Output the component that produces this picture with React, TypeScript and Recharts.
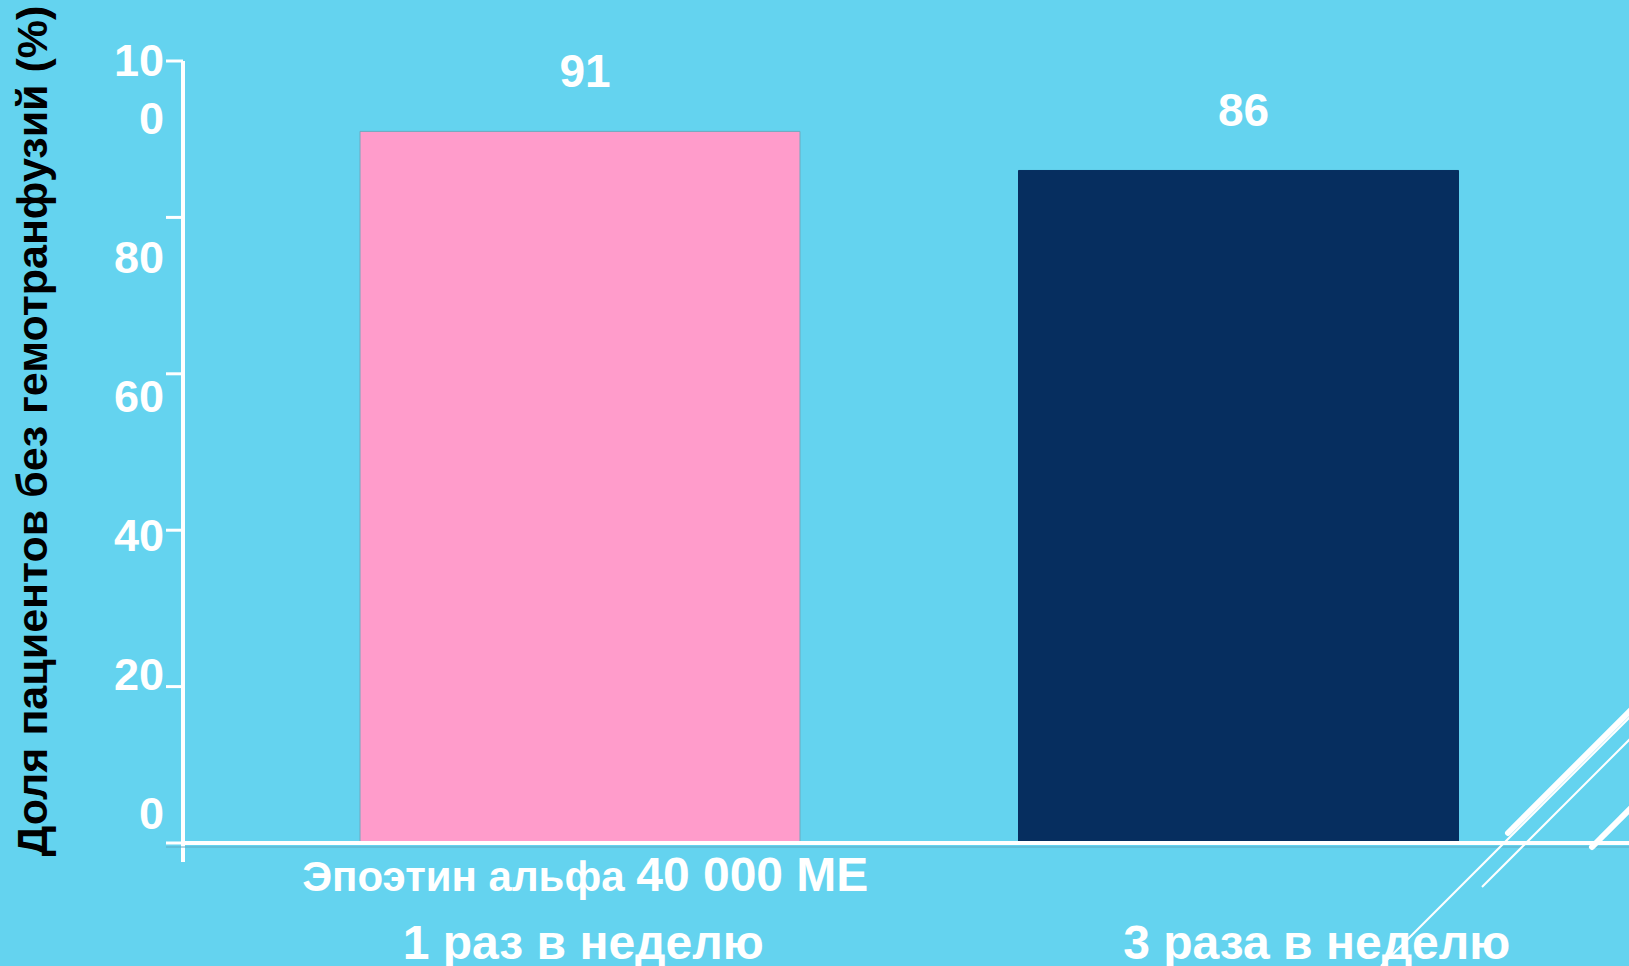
import React from 'react';
import { BarChart, Bar, XAxis, YAxis, Cell, LabelList } from 'recharts';

const groups = ['weekly', 'thriceWeekly'];
const doseLabels = ['Эпоэтин альфа 40 000 МЕ', ''];
const scheduleLabels = ['1 раз в неделю', '3 раза в неделю'];
const transfusionFree = [91, 86];
const yTicks = [0, 20, 40, 60, 80, 100];
const yTickLines = [['0'], ['20'], ['40'], ['60'], ['80'], ['10', '0']];
const yTitle = 'Доля пациентов без гемотранфузий (%)';

const data = groups.map((g, i) => ({
  group: g,
  dose: doseLabels[i],
  schedule: scheduleLabels[i],
  value: transfusionFree[i],
}));

const BG = '#64D3EF';
const FONT = "'Liberation Sans', Arial, sans-serif";
const barFills = ['#FF9CCB', '#062E5F'];
const barStrokes = ['#6FA9BE', '#062E5F'];
const scheduleShift = [3, 78];

const YTick = (props: any) => {
  const { x, y, payload } = props;
  const i = yTicks.indexOf(payload.value);
  const lines = yTickLines[i] ?? [String(payload.value)];
  // tick labels in the slide sit on a slightly squeezed scale vs. the tick marks
  const cy = y - 30 + payload.value * 0.87;
  const n = lines.length;
  return (
    <text textAnchor="end" fill="#fff" fontSize={45} fontWeight="bold" fontFamily={FONT}>
      {lines.map((l, k) => (
        <tspan key={k} x={x} y={cy + 16 - (n - 1 - k) * 58}>
          {l}
        </tspan>
      ))}
    </text>
  );
};

const XTick = (props: any) => {
  const { x, y, payload } = props;
  const i = groups.indexOf(payload.value);
  const dose = data[i].dose;
  const m = dose.match(/^(.*?)(\d.*)$/);
  return (
    <g fill="#fff" fontWeight="bold" fontFamily={FONT}>
      {dose && (
        <text x={x + 5} y={y + 48} textAnchor="middle">
          <tspan fontSize={42}>{m ? m[1] : dose}</tspan>
          {m && <tspan fontSize={48}>{m[2]}</tspan>}
        </text>
      )}
      <text x={x + scheduleShift[i]} y={y + 116} textAnchor="middle" fontSize={48}>
        {data[i].schedule}
      </text>
    </g>
  );
};

const YTitle = () => (
  <text
    transform="translate(47,431) rotate(-90)"
    textAnchor="middle"
    fill="#000"
    fontSize={43}
    fontWeight="bold"
    fontFamily={FONT}
  >
    {yTitle}
  </text>
);

export default function App() {
  return (
    <div style={{ position: 'absolute', top: 0, left: 0, width: 1629, height: 966, background: BG, overflow: 'hidden' }}>
      <BarChart width={1629} height={966} data={data} margin={{ top: 61, right: 0, bottom: 0, left: 0 }}>
        <XAxis
          dataKey="group"
          height={123}
          padding={{ left: 68, right: 61 }}
          axisLine={{ stroke: '#fff', strokeWidth: 4 }}
          tickLine={false}
          tickSize={0}
          tickMargin={0}
          tick={<XTick />}
          interval={0}
        />
        <YAxis
          width={183}
          domain={[0, 100]}
          ticks={yTicks}
          interval={0}
          axisLine={{ stroke: '#fff', strokeWidth: 4 }}
          tickLine={{ stroke: '#fff', strokeWidth: 3 }}
          tickSize={17}
          tick={<YTick />}
          label={{ content: () => <YTitle /> }}
        />
        <Bar dataKey="value" barSize={440} isAnimationActive={false}>
          {data.map((d, i) => (
            <Cell key={d.group} fill={barFills[i]} stroke={barStrokes[i]} strokeWidth={1} />
          ))}
          <LabelList
            dataKey="value"
            position="top"
            offset={44}
            dx={5}
            fill="#fff"
            fontSize={46}
            fontWeight="bold"
            fontFamily={FONT}
          />
        </Bar>
      </BarChart>
      <svg width={1629} height={966} style={{ position: 'absolute', top: 0, left: 0, pointerEvents: 'none' }}>
        <line x1={183} y1={843} x2={183} y2={862} stroke="#fff" strokeWidth={4} />
        <line x1={166} y1={847} x2={1629} y2={847} stroke="#5FA9C2" strokeWidth={1} />
        <line x1={1508} y1={833} x2={1640} y2={701} stroke="#fff" strokeWidth={6} strokeLinecap="round" />
        <line x1={1592} y1={847} x2={1640} y2={799} stroke="#fff" strokeWidth={6} strokeLinecap="round" />
        <line x1={1381} y1={966} x2={1640} y2={707} stroke="#fff" strokeWidth={2} />
        <line x1={1482} y1={887} x2={1640} y2={729} stroke="#fff" strokeWidth={2} />
      </svg>
    </div>
  );
}
